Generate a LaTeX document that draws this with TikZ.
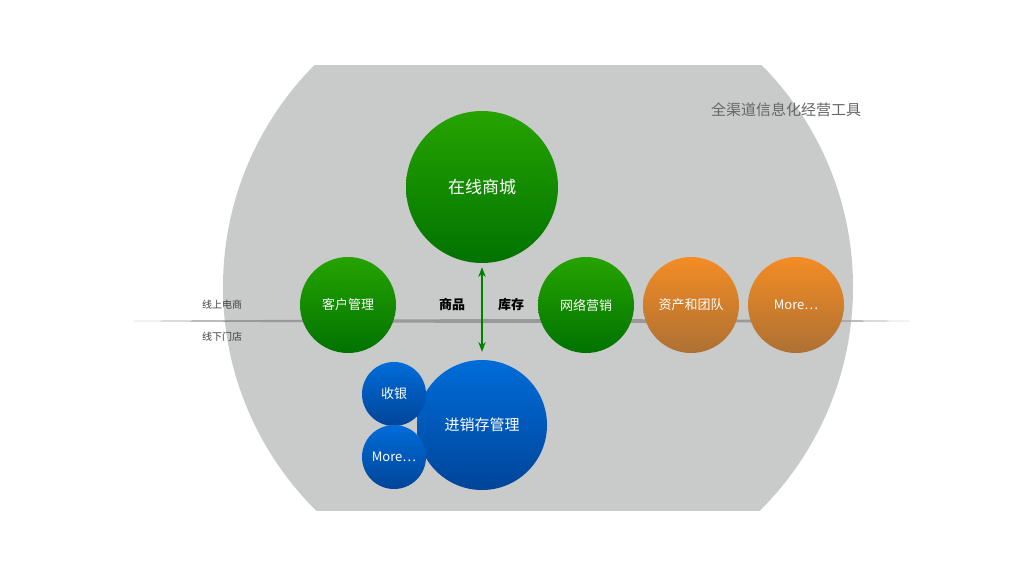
\documentclass[tikz,border=0pt]{standalone}
\usepackage{fontspec}
\setmainfont{Noto Sans CJK SC}
\usetikzlibrary{arrows.meta}
\definecolor{bggray}{HTML}{C9CACA}
\tikzset{
  ball/.style={circle,inner sep=0pt,text=white,font=\fontsize{13}{13}\selectfont},
  greenball/.style={ball,top color=green!45!black!60!lime!60!gray,bottom color=green!40!black,shading angle=0},
  orangeball/.style={ball,top color=orange!70!brown!90,bottom color=brown!80!orange},
  blueball/.style={ball,top color=blue!40!cyan!70!gray,bottom color=blue!60!black!70!cyan},
}
\begin{document}
\begin{tikzpicture}[x=1pt,y=-1pt]
         \useasboundingbox (0,0) rectangle (1024,576);
         \fill[white] (0,0) rectangle (1024,576);
         % big gray disc, cut top and bottom
         \begin{scope}
           \clip (0,65) rectangle (1024,510);
           \fill[bggray] (538,287) circle (315);
         \end{scope}
         % divider line
         \fill[gray!80] (133,321) .. controls (400,318.5) and (700,318.5) .. (910,321)
           .. controls (700,323.5) and (400,323.5) .. (133,321);
         \node[font=\fontsize{10}{10}\selectfont,text=black!75] (online) at (222,305) {线上电商};
         \node[font=\fontsize{10}{10}\selectfont,text=black!75] (offline) at (222,337) {线下门店};
         \node[font=\fontsize{15}{15}\selectfont,text=black!60] (title) at (786,110) {全渠道信息化经营工具};
         % circles
         \node[greenball,minimum size=152pt,top color=green!55!black!80!lime,bottom color=green!45!black,font=\fontsize{17}{17}\selectfont] (mall) at (482,187) {在线商城};
         \node[greenball,minimum size=96pt,top color=green!55!black!80!lime,bottom color=green!45!black] (crm) at (348,305) {客户管理};
         \node[greenball,minimum size=96pt,top color=green!55!black!80!lime,bottom color=green!45!black] (mkt) at (586,305) {网络营销};
         \node[orangeball,minimum size=96pt,top color=orange!80!brown!90,bottom color=orange!60!black!80] (asset) at (691,305) {资产和团队};
         \node[orangeball,minimum size=96pt,top color=orange!80!brown!90,bottom color=orange!60!black!80] (more1) at (796,305) {More\dots};
         \node[blueball,minimum size=130pt,top color=blue!50!cyan!85!black,bottom color=blue!55!cyan!60!black,font=\fontsize{15}{15}\selectfont] (jxc) at (482,425) {进销存管理};
         \node[blueball,minimum size=64pt,top color=blue!50!cyan!85!black,bottom color=blue!55!cyan!60!black] (cash) at (394,394) {收银};
         \node[blueball,minimum size=64pt,top color=blue!50!cyan!85!black,bottom color=blue!55!cyan!60!black] (more2) at (394,457) {More\dots};
         \node[font=\bfseries\fontsize{13}{13}\selectfont] (goods) at (452,305) {商品};
         \node[font=\bfseries\fontsize{13}{13}\selectfont] (stock) at (511,305) {库存};
         \draw[{Stealth}-{Stealth},green!50!black,line width=1.5pt,shorten <=4pt,shorten >=8pt] (mall.south) -- (jxc.north);
\end{tikzpicture}
\end{document}
